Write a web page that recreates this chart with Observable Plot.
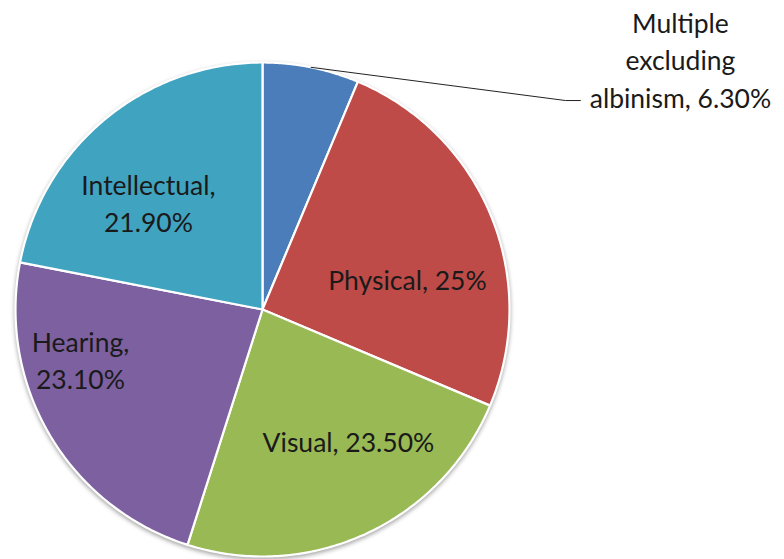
<!DOCTYPE html>
<html>
<head>
<meta charset="utf-8">
<script src="https://cdn.jsdelivr.net/npm/d3@7"></script>
<script src="https://cdn.jsdelivr.net/npm/@observablehq/plot@0.6"></script>
<style>
  html, body { margin: 0; padding: 0; background: #fff; }
  #chart svg { display: block; }
  #chart g[aria-label="line"].slices { filter: drop-shadow(0px 2px 2px rgba(0,0,0,0.35)); }
</style>
</head>
<body>
<div id="chart"></div>
<script>
// ---- data ----
const categories = ["Multiple excluding albinism", "Physical", "Visual", "Hearing", "Intellectual"];
const values = [6.3, 25, 23.5, 23.1, 21.9];
const labels = ["Multiple\nexcluding\nalbinism, 6.30%", "Physical, 25%", "Visual, 23.50%", "Hearing,\n23.10%", "Intellectual,\n21.90%"];
const colors = ["#4a7dba", "#be4b48", "#98b954", "#7d60a0", "#40a3c0"];

// ---- layout (unit-circle coordinates, y up) ----
const labelPos = [[1.692, 1.016], [0.587, 0.126], [0.348, -0.530], [-0.737, -0.200], [-0.462, 0.435]];
const leaderBend = [[1.227, 0.846], [1.287, 0.846]];

const pie = d3.pie().sort(null).value(d => d)(values);

const slicePts = [];
pie.forEach((p, i) => {
  const name = categories[i];
  slicePts.push({name, x: 0, y: 0});
  const n = 120;
  for (let k = 0; k <= n; k++) {
    const a = p.startAngle + (p.endAngle - p.startAngle) * k / n;
    slicePts.push({name, x: Math.sin(a), y: Math.cos(a)});
  }
  slicePts.push({name, x: 0, y: 0});
});

const labelData = categories.map((c, i) => ({name: c, text: labels[i], x: labelPos[i][0], y: labelPos[i][1]}));

const midA = (pie[0].startAngle + pie[0].endAngle) / 2;
const leader = [
  {x: Math.sin(midA), y: Math.cos(midA)},
  {x: leaderBend[0][0], y: leaderBend[0][1]},
  {x: leaderBend[1][0], y: leaderBend[1][1]}
];

const chart = Plot.plot({
  width: 784,
  height: 559,
  margin: 0,
  x: {domain: [-1, 1], range: [15, 509], axis: null},
  y: {domain: [-1, 1], range: [556, 62], axis: null},
  color: {domain: categories, range: colors},
  style: {fontFamily: "Lato, sans-serif", background: "#fff"},
  marks: [
    Plot.line(slicePts, {x: "x", y: "y", z: "name", fill: "name", stroke: "white", strokeWidth: 2.2, strokeLinejoin: "round", className: "slices"}),
    Plot.line(leader, {x: "x", y: "y", stroke: "#222", strokeWidth: 1}),
    Plot.text(labelData, {x: "x", y: "y", text: "text", fontSize: 26.5, lineHeight: 1.4, fill: "#1a1a1a", textAnchor: "middle", lineAnchor: "middle"})
  ]
});
document.getElementById("chart").appendChild(chart);
</script>
</body>
</html>
